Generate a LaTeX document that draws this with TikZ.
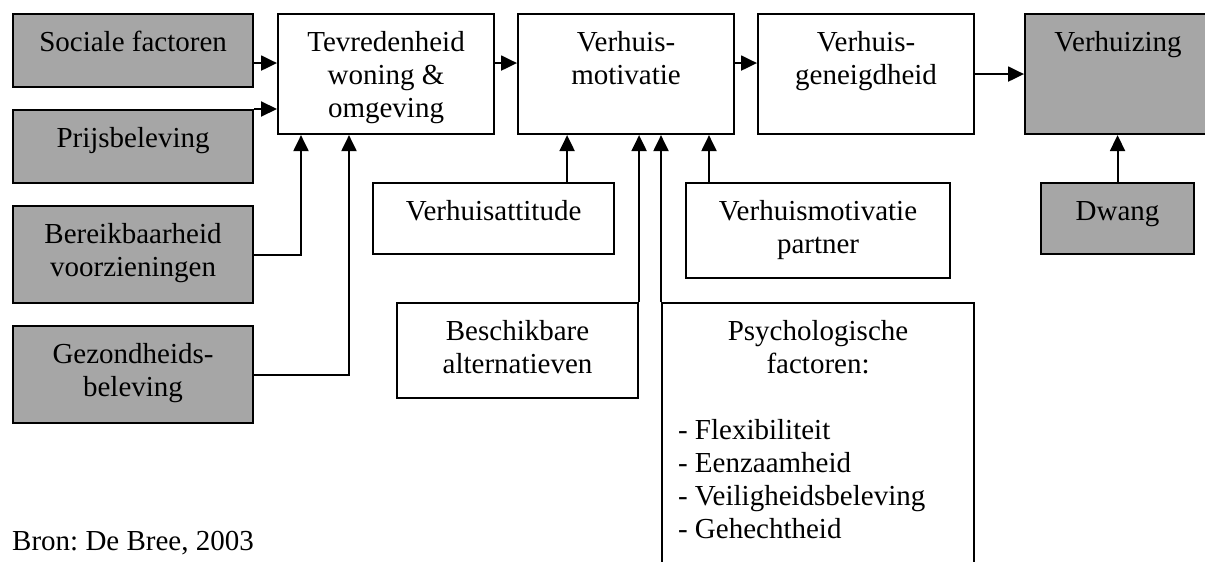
\documentclass[tikz,border=0pt]{standalone}
\usepackage{fontspec}
\setmainfont{Liberation Serif}
\usetikzlibrary{arrows.meta}
\definecolor{boxgray}{RGB}{166,166,166}
\frenchspacing
% top-aligned, centred box content: width, height, text
\newcommand\boxtext[3]{\parbox[c][#2][t]{#1}{\centering\vspace*{14.4pt}\strut #3}}

\tikzset{
  box/.style={draw, line width=2.1pt, inner sep=0pt, anchor=north west,
              font=\fontsize{29}{33}\selectfont, fill=white},
  graybox/.style={box, fill=boxgray},
  arr/.style={line width=2.1pt, -{Triangle[length=16pt,width=15pt]}},
  link/.style={line width=2.1pt}
}

\begin{document}
\begin{tikzpicture}[x=1pt, y=-1pt]
\useasboundingbox (0,0) rectangle (1205,562);
\clip (0,0) rectangle (1205,562);
\fill[white] (0,0) rectangle (1205,562);

% left column: influences on satisfaction
\node[graybox] (soc)    at (12,13)  {\boxtext{240pt}{73pt}{Sociale factoren}};
\node[graybox] (prijs)  at (12,109) {\boxtext{240pt}{73pt}{Prijsbeleving}};
\node[graybox] (bereik) at (12,205) {\boxtext{240pt}{97pt}{Bereikbaarheid\\voorzieningen}};
\node[graybox] (gezond) at (12,325) {\boxtext{240pt}{97pt}{Gezondheids-\\beleving}};

% main chain
\node[box]     (tev)  at (277,13)  {\boxtext{216pt}{120pt}{Tevredenheid\\woning \&\\omgeving}};
\node[box]     (mot)  at (517,13)  {\boxtext{216pt}{120pt}{Verhuis-\\motivatie}};
\node[box]     (gen)  at (757,13)  {\boxtext{216pt}{120pt}{Verhuis-\\geneigdheid}};
\node[graybox] (verh) at (1024,13) {\boxtext{186pt}{120pt}{Verhuizing}};

% second row
\node[box]     (att)     at (372,182)  {\boxtext{241pt}{71pt}{Verhuisattitude}};
\node[box]     (partner) at (685,182)  {\boxtext{264pt}{95pt}{Verhuismotivatie\\partner}};
\node[graybox] (dwang)   at (1040,182) {\boxtext{153pt}{71pt}{Dwang}};

% third row
\node[box] (besch) at (396,302) {\boxtext{241pt}{95pt}{Beschikbare\\alternatieven}};
\node[box] (psych) at (661,302) {\parbox[c][300pt][t]{312pt}{%
  \centering\vspace*{14.4pt}\strut Psychologische\\factoren:\\\mbox{}\par
  \raggedright\leftskip=16pt
  - Flexibiliteit\\- Eenzaamheid\\- Veiligheidsbeleving\\- Gehechtheid\par}};

% source line
\node[anchor=base west, inner sep=0pt, font=\fontsize{29}{33}\selectfont] (bron)
  at (12,550) {Bron: De Bree, 2003};

% connectors into satisfaction
\draw[arr] ([yshift=-12.5pt]soc.east) -- ([yshift=-12.5pt]soc.east -| tev.west);
\draw[arr] (prijs.north east) -- (prijs.north east -| tev.west);
\draw[arr] (bereik.east) -| ([xshift=24pt]tev.south west);
\draw[arr] (gezond.east) -| ([xshift=72pt]tev.south west);

% main chain arrows
\draw[arr] ([yshift=11pt]tev.east) -- ([yshift=11pt]tev.east -| mot.west);
\draw[arr] ([yshift=11pt]mot.east) -- ([yshift=11pt]mot.east -| gen.west);
\draw[arr] (gen.east) -- (gen.east -| verh.west);

% connectors into motivation
\draw[arr] ([xshift=-48pt]att.north east) -- ([xshift=-48pt]att.north east |- mot.south);
\draw[arr] (besch.north east) -- (besch.north east |- mot.south);
\draw[arr] (psych.north west) -- (psych.north west |- mot.south);
\draw[arr] ([xshift=24pt]partner.north west) -- ([xshift=24pt]partner.north west |- mot.south);

% compulsion into moving
\draw[arr] (dwang.north) -- (dwang.north |- verh.south);
\end{tikzpicture}
\end{document}
